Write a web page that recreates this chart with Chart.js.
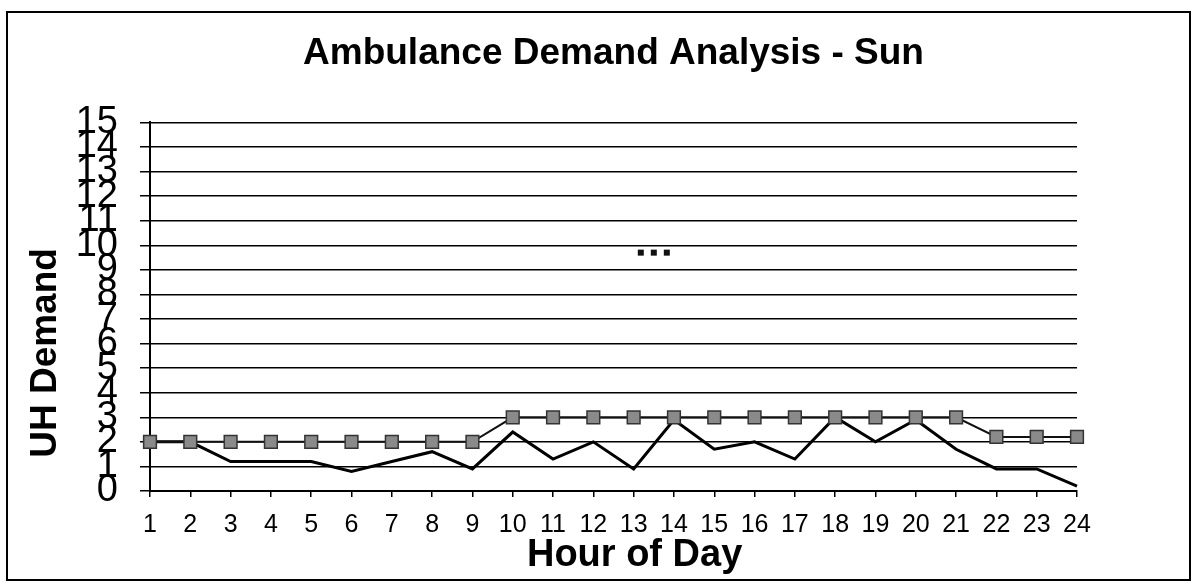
<!DOCTYPE html>
<html>
<head>
<meta charset="utf-8">
<script src="https://cdn.jsdelivr.net/npm/chart.js@4"></script>
<style>
  body { margin: 0; background: #fff; }
  #wrap { width: 1195px; height: 586px; }
</style>
</head>
<body>
<div id="wrap"><canvas id="demandChart" width="1195" height="586"></canvas></div>
<script>
const hours = ['1','2','3','4','5','6','7','8','9','10','11','12','13','14','15','16','17','18','19','20','21','22','23','24'];
const demand = [2, 2, 1.2, 1.2, 1.2, 0.8, 1.2, 1.6, 0.9, 2.4, 1.3, 2.0, 0.9, 2.9, 1.7, 2.0, 1.3, 3.0, 2.0, 2.9, 1.7, 0.9, 0.9, 0.2];
const capacity = [2, 2, 2, 2, 2, 2, 2, 2, 2, 3, 3, 3, 3, 3, 3, 3, 3, 3, 3, 3, 3, 2.2, 2.2, 2.2];
const yTicks = [0, 15, 1];

const font = 'Liberation Sans, Arial, sans-serif';
const nb = n => '\u00a0'.repeat(n);

// frame round the whole picture + the little "..." remnant
const extras = {
  id: 'extras',
  afterDraw(chart) {
    const ctx = chart.ctx;
    ctx.save();
    ctx.strokeStyle = '#000';
    ctx.lineWidth = 2;
    ctx.strokeRect(7, 12, 1183, 568);
    const x = chart.scales.x, y = chart.scales.y;
    const cx = x.getPixelForValue(12.5), cy = y.getPixelForValue(9.7);
    ctx.fillStyle = '#111';
    [-13, 0, 13].forEach(d => ctx.fillRect(cx + d - 3, cy - 3, 6, 6));
    ctx.restore();
  }
};

new Chart(document.getElementById('demandChart'), {
  type: 'line',
  data: {
    labels: hours,
    datasets: [{
      label: 'Capacity',
      data: capacity,
      borderColor: '#111',
      borderWidth: 2,
      pointStyle: 'rect',
      pointRadius: 9,
      pointBackgroundColor: '#8a8a8a',
      pointBorderColor: '#333',
      pointBorderWidth: 1.5,
      tension: 0
    }, {
      label: 'Demand',
      data: demand,
      borderColor: '#000',
      borderWidth: 3,
      pointRadius: 0,
      tension: 0
    }]
  },
  options: {
    responsive: false,
    animation: false,
    layout: {padding: {left: 24, right: 118, top: 0, bottom: 8}},
    plugins: {
      legend: {display: false},
      tooltip: {enabled: false},
      title: {
        display: true,
        fullSize: false,
        text: 'Ambulance Demand Analysis - Sun',
        color: '#000',
        font: {family: font, size: 37, weight: 'bold'},
        padding: {top: 32, bottom: 46}
      }
    },
    scales: {
      x: {
        type: 'category',
        offset: false,
        afterFit: s => { s.height = 87; },
        grid: {drawOnChartArea: false, drawTicks: true, tickLength: 6, color: '#000', lineWidth: 1.5},
        border: {color: '#000', width: 2},
        ticks: {color: '#000', autoSkip: false, maxRotation: 0, padding: 13,
          font: {family: font, size: 25}},
        title: {display: true, text: nb(4) + 'Hour of Day', color: '#000', padding: {top: 0, bottom: 0},
          font: {family: font, size: 38, weight: 'bold'}}
      },
      y: {
        min: yTicks[0],
        max: yTicks[1],
        afterFit: s => { s.width = 126; },
        grid: {color: '#000', lineWidth: 1.5, tickLength: 10},
        border: {color: '#000', width: 2},
        ticks: {stepSize: yTicks[2], autoSkip: false, color: '#000', padding: 22,
          font: {family: font, size: 38}},
        title: {display: true, text: 'UH Demand' + nb(9), color: '#000', padding: {top: 0, bottom: 6},
          font: {family: font, size: 37, weight: 'bold'}}
      }
    }
  },
  plugins: [extras]
});
</script>
</body>
</html>
